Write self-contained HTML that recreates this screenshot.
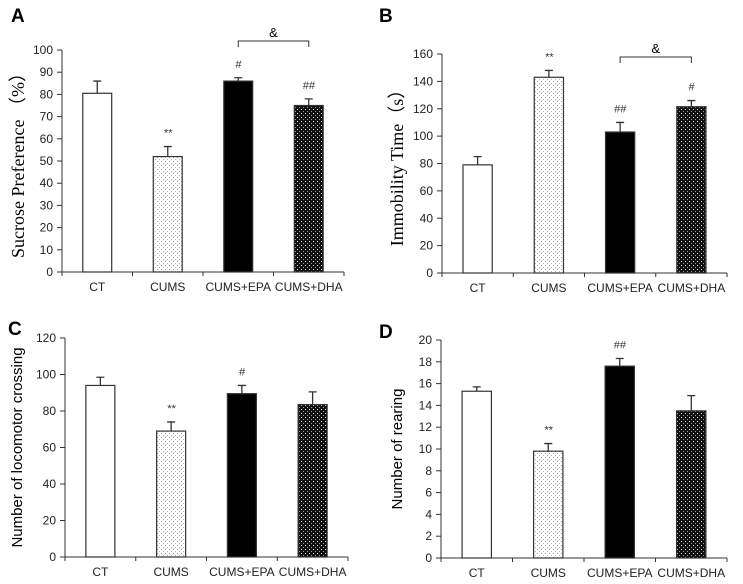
<!DOCTYPE html>
<html><head><meta charset="utf-8"><style>
body{margin:0;background:#fff;}
svg{display:block;font-family:"Liberation Sans",Arial,sans-serif;}
</style></head><body>
<svg id="fig" width="743" height="584" viewBox="0 0 743 584" xmlns="http://www.w3.org/2000/svg">
<defs>
<pattern id="lightdots" width="4" height="4" patternUnits="userSpaceOnUse"><rect width="4" height="4" fill="#fff"/><rect x="1" y="1" width="1" height="1" fill="#999"/><rect x="3" y="3" width="1" height="1" fill="#bbb"/></pattern>
<pattern id="darkdots" width="4" height="4" patternUnits="userSpaceOnUse"><rect width="4" height="4" fill="#111"/><rect x="1" y="1" width="1" height="1" fill="#ddd"/><rect x="3" y="3" width="1" height="1" fill="#999"/></pattern>
</defs>
</svg>
<script>
const categories = ["CT","CUMS","CUMS+EPA","CUMS+DHA"];
const valuesA = [80.5, 52, 86, 75];
const errorsA = [5.5, 4.5, 1.5, 3];
const valuesB = [79, 143, 103, 121.5];
const errorsB = [6, 5, 7, 4.5];
const valuesC = [94, 69, 89.5, 83.5];
const errorsC = [4.5, 5, 4.5, 7];
const valuesD = [15.3, 9.8, 17.6, 13.5];
const errorsD = [0.4, 0.7, 0.7, 1.4];
const ticksA = [0,10,20,30,40,50,60,70,80,90,100];
const ticksB = [0,20,40,60,80,100,120,140,160];
const ticksC = [0,20,40,60,80,100,120];
const ticksD = [0,2,4,6,8,10,12,14,16,18,20];
const marksA = ["", "**", "#", "##"];
const marksB = ["", "**", "##", "#"];
const marksC = ["", "**", "#", ""];
const marksD = ["", "**", "##", ""];

const NS = "http://www.w3.org/2000/svg";
const svg = document.getElementById('fig');
const fills = ["#fff","url(#lightdots)","#000","url(#darkdots)"];
function mk(tag, attrs, parent){const e=document.createElementNS(NS,tag);for(const k in attrs)e.setAttribute(k,attrs[k]);(parent||svg).appendChild(e);return e;}

function panel(p){
  const g = mk('g',{});
  
  
  const max = p.ticks[p.ticks.length-1];
  const y = v => p.y0 - (v/max)*(p.y0-p.y1);
  const step = (p.x1-p.x0)/categories.length;
  const xc = i => p.x0 + step*(i+0.5);
  const bw = step*0.41;
  const L = mk('text',{x:p.lx,y:p.ly,'font-size':19,'font-weight':'bold'},g); L.textContent=p.id;
   
  const ax = mk('path',{d:`M${p.x0},${p.y1}V${p.y0}H${p.x1}`,stroke:'#333',fill:'none','stroke-width':1},g);
   
  p.ticks.forEach(t=>{
    mk('line',{x1:p.x0-5,x2:p.x0,y1:y(t),y2:y(t),stroke:'#333'},g);
    const tl=mk('text',{x:p.x0-9,y:y(t)+4,'font-size':12,'text-anchor':'end',fill:'#222'},g); tl.textContent=t;
     
  });
  for(let i=0;i<=categories.length;i++){const xx=p.x0+step*i;mk('line',{x1:xx,x2:xx,y1:p.y0,y2:p.y0+4,stroke:'#333'},g);}
  categories.forEach((c,i)=>{
    const v=p.vals[i], e=p.errs[i];
    const ey=y(v+e);
    const el=mk('path',{d:`M${xc(i)},${y(v)}V${ey}M${xc(i)-4},${ey}H${xc(i)+4}`,stroke:'#333','stroke-width':1.3,fill:'none'},g);
     
    const b=mk('rect',{x:xc(i)-bw/2,y:y(v),width:bw,height:y(0)-y(v),fill:fills[i],stroke:'#333','stroke-width':1.2},g);
     
    const xl=mk('text',{x:xc(i),y:p.y0+19,'font-size':12,'text-anchor':'middle',fill:'#222'},g); xl.textContent=c;
     
    if(p.marks[i]){const m=mk('text',{x:xc(i),y:ey-10,'font-size':11,'text-anchor':'middle',fill:'#333','font-style':'italic'},g);m.textContent=p.marks[i];
       }
  });
  if(p.bracketY){
    const by=p.bracketY;
    const br=mk('path',{d:`M${xc(2)},${by+6}V${by}H${xc(3)}V${by+6}`,stroke:'#333',fill:'none'},g);
     
    const a=mk('text',{x:(xc(2)+xc(3))/2,y:by-4,'font-size':13,'text-anchor':'middle'},g); a.textContent='&';
     
  }
  const t=mk('text',{x:0,y:0,'font-size':p.serif?18:15,'text-anchor':'middle',transform:`translate(${p.tx},${(p.y0+p.y1)/2}) rotate(-90)`,'font-family':p.serif?'"Liberation Serif",serif':'"Liberation Sans",sans-serif'},g);
  t.textContent=p.title;
   
}
panel({id:'A',x0:62,x1:344,y0:272,y1:50,ticks:ticksA,vals:valuesA,errs:errorsA,marks:marksA,bracketY:41,lx:11,ly:22,tx:24,serif:true,title:'Sucrose Preference （%）'});
panel({id:'B',x0:442,x1:727,y0:273,y1:54,ticks:ticksB,vals:valuesB,errs:errorsB,marks:marksB,bracketY:57,lx:379,ly:22,tx:403,serif:true,title:'Immobility  Time（s）'});
panel({id:'C',x0:65,x1:348,y0:557,y1:338,ticks:ticksC,vals:valuesC,errs:errorsC,marks:marksC,lx:8,ly:335,tx:22,serif:false,title:'Number of locomotor crossing'});
panel({id:'D',x0:441,x1:727,y0:558,y1:340,ticks:ticksD,vals:valuesD,errs:errorsD,marks:marksD,lx:379,ly:338,tx:402,serif:false,title:'Number of rearing'});
</script>
</body></html>
